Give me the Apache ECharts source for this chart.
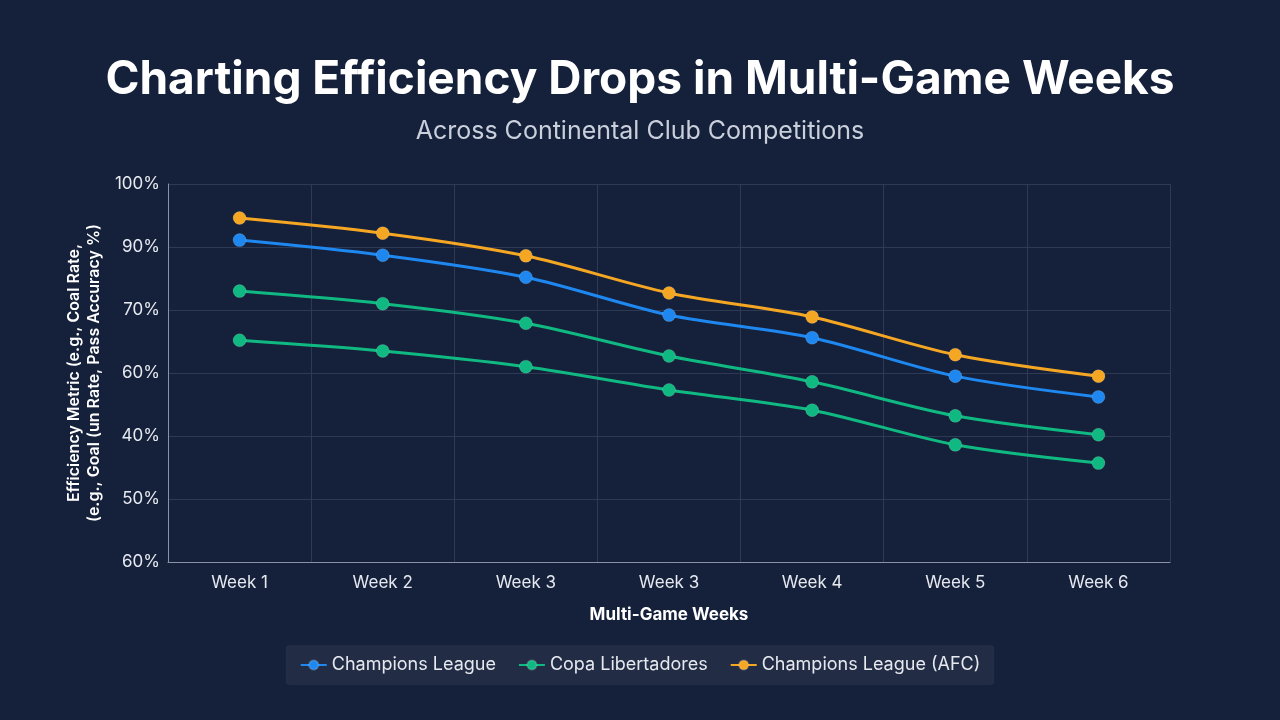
<!DOCTYPE html>
<html><head><meta charset="utf-8">
<script src="https://cdn.jsdelivr.net/npm/echarts@6/dist/echarts.min.js"></script>
<style>html,body{margin:0;padding:0;background:#15203a;}#c{width:1280px;height:720px;}</style>
</head><body><div id="c"></div>
<script>
const categories = ['Week 1','Week 2','Week 3','Week 3','Week 4','Week 5','Week 6'];
const yTickLabels = ['60%','50%','40%','60%','70%','90%','100%'];
const championsLeague = [5.11,4.87,4.52,3.92,3.56,2.95,2.62];
const copaUpper = [4.30,4.10,3.79,3.27,2.86,2.32,2.02];
const copaLower = [3.52,3.35,3.10,2.73,2.41,1.86,1.57];
const afc = [5.46,5.22,4.86,4.27,3.89,3.29,2.95];

const chart = echarts.init(document.getElementById('c'));
function s(name, data, color){
  return {name, type:'line', data, smooth:0.3, symbol:'circle', symbolSize:13,
    lineStyle:{color, width:3}, itemStyle:{color, borderColor:'rgba(255,255,255,0.15)', borderWidth:1}};
}
chart.setOption({
  backgroundColor:'#15203a',
  title:{text:'Charting Efficiency Drops in Multi-Game Weeks', subtext:'Across Continental Club Competitions',
    left:'center', top:52, itemGap:16,
    textStyle:{color:'#ffffff', fontSize:46, fontWeight:'bold', fontFamily:'Inter'},
    subtextStyle:{color:'#c9cfdb', fontSize:25, fontFamily:'Inter'}},
  grid:{left:168, right:110, top:184, bottom:158},
  xAxis:{type:'category', data:categories, boundaryGap:true,
    name:'Multi-Game Weeks', nameLocation:'middle', nameGap:44,
    nameTextStyle:{color:'#ffffff', fontSize:17, fontWeight:'bold', fontFamily:'Inter'},
    axisLine:{lineStyle:{color:'#8a93a6'}}, axisTick:{show:false},
    axisLabel:{color:'#e6e9ef', fontSize:17, margin:12, fontFamily:'Inter'},
    splitLine:{show:true, lineStyle:{color:'#2e3a54'}}},
  yAxis:{type:'value', min:0, max:6, interval:1,
    name:'Efficiency Metric (e.g., Coal Rate,\n(e.g., Goal (un Rate, Pass Accuracy %)', nameLocation:'middle', nameGap:58,
    nameTextStyle:{color:'#ffffff', fontSize:16, fontWeight:600, fontFamily:'Inter', lineHeight:20},
    axisLine:{show:true, lineStyle:{color:'#8a93a6'}},
    axisLabel:{color:'#e6e9ef', fontSize:17, fontFamily:'Inter', formatter:v=>yTickLabels[v]},
    splitLine:{lineStyle:{color:'#2e3a54'}}},
  legend:{bottom:35, left:'center', backgroundColor:'#222d45', borderRadius:4, padding:[11,14], itemGap:22,
    itemWidth:26, itemHeight:12, textStyle:{color:'#e6e9ef', fontSize:18, fontFamily:'Inter'},
    data:['Champions League','Copa Libertadores','Champions League (AFC)']},
  series:[
    s('Champions League', championsLeague, '#1e88f0'),
    s('Copa Libertadores', copaUpper, '#10b981'),
    s('Copa Libertadores', copaLower, '#10b981'),
    s('Champions League (AFC)', afc, '#f5a623')
  ]
});
</script></body></html>
